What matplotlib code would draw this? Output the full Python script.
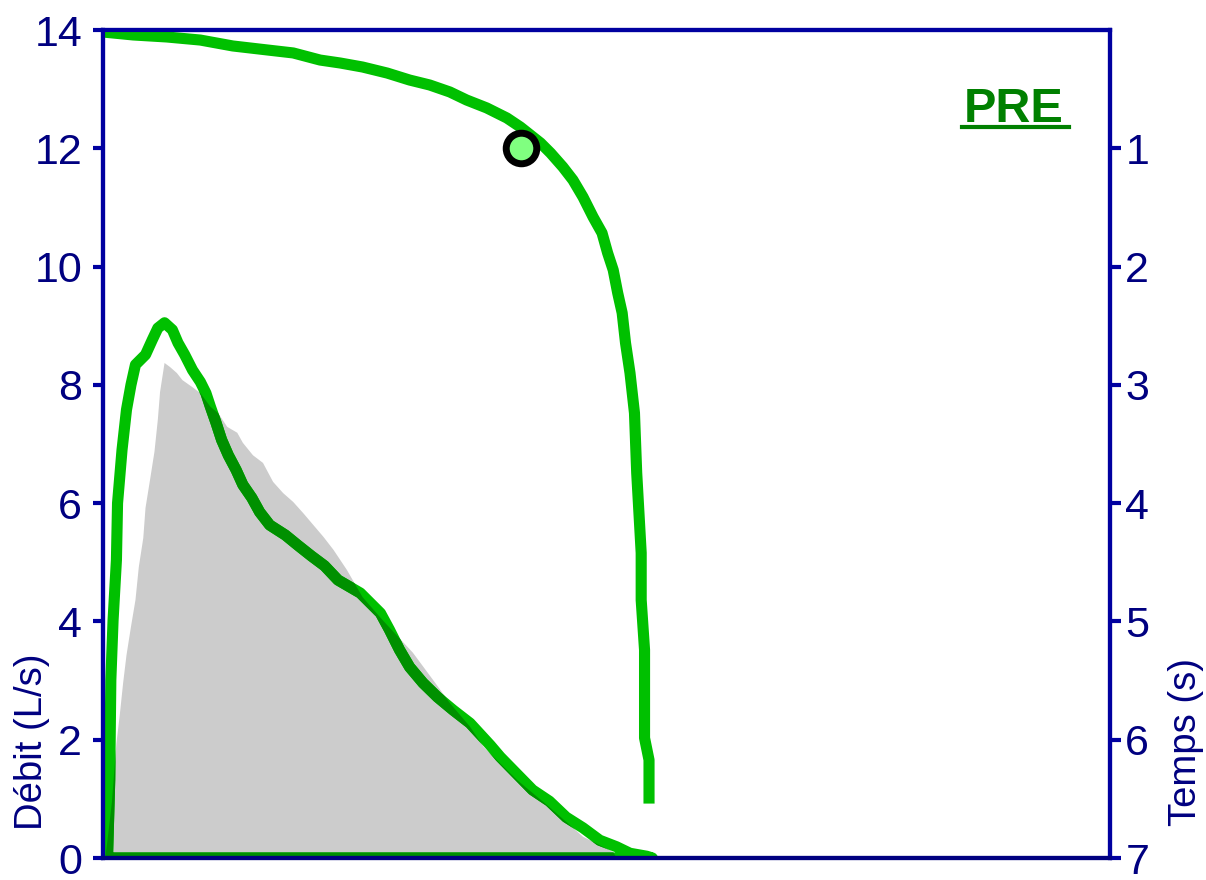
import matplotlib
matplotlib.use("Agg")
import matplotlib.pyplot as plt
from matplotlib.lines import Line2D

# courbe débit-volume mesurée (volume L, débit L/s)
vol_mes = [0.04, 0.06, 0.07, 0.09, 0.12, 0.13, 0.17, 0.21, 0.25, 0.29, 0.38, 0.44, 0.49,
           0.55, 0.62, 0.67, 0.73, 0.80, 0.87, 0.92, 0.96, 1.01, 1.06, 1.12, 1.19, 1.25,
           1.33, 1.40, 1.49, 1.63, 1.74, 1.86, 1.98, 2.10, 2.30, 2.48, 2.56, 2.65, 2.74,
           2.86, 2.99, 3.13, 3.28, 3.46, 3.55, 3.70, 3.84, 3.99, 4.14, 4.29, 4.44, 4.59,
           4.71, 4.86, 4.91, 0.04]
deb_mes = [0.0, 1.32, 3.01, 4.02, 5.04, 6.00, 6.90, 7.58, 8.00, 8.34, 8.51, 8.76, 8.96,
           9.05, 8.93, 8.71, 8.51, 8.25, 8.05, 7.86, 7.63, 7.36, 7.07, 6.81, 6.56, 6.31,
           6.09, 5.85, 5.63, 5.46, 5.29, 5.11, 4.94, 4.70, 4.48, 4.14, 3.86, 3.52, 3.23,
           2.96, 2.72, 2.50, 2.28, 1.91, 1.71, 1.42, 1.15, 0.96, 0.69, 0.51, 0.30, 0.19,
           0.08, 0.03, 0.0, 0.0]

# courbe théorique (zone grise)
vol_th = [0.02, 0.04, 0.08, 0.12, 0.15, 0.18, 0.21, 0.25, 0.29, 0.32, 0.36, 0.38, 0.42,
          0.46, 0.49, 0.51, 0.55, 0.60, 0.66, 0.71, 0.80, 0.87, 0.96, 1.03, 1.11, 1.20,
          1.25, 1.34, 1.43, 1.52, 1.61, 1.70, 1.79, 1.88, 1.97, 2.06, 2.18, 2.32, 2.50,
          2.77, 2.95, 3.10, 3.28, 3.40, 3.70, 3.99, 4.29, 4.56, 4.59]
deb_th = [0.0, 0.30, 0.95, 1.94, 2.42, 2.96, 3.43, 3.91, 4.36, 4.92, 5.41, 5.92, 6.39,
          6.87, 7.41, 7.88, 8.37, 8.30, 8.20, 8.08, 7.96, 7.86, 7.63, 7.52, 7.29, 7.19,
          7.02, 6.81, 6.68, 6.36, 6.17, 6.02, 5.83, 5.63, 5.43, 5.21, 4.87, 4.41, 4.02,
          3.47, 3.01, 2.62, 2.22, 1.88, 1.32, 0.86, 0.36, 0.10, 0.0]

# courbe volume-temps (volume L, temps s)
vol_t = [0.0, 0.27, 0.57, 0.87, 1.16, 1.47, 1.70, 1.94, 2.12, 2.32, 2.54, 2.74, 2.92,
         3.10, 3.25, 3.43, 3.61, 3.73, 3.91, 4.00, 4.11, 4.20, 4.29, 4.38, 4.46, 4.51,
         4.56, 4.60, 4.64, 4.67, 4.71, 4.75, 4.77, 4.81, 4.81, 4.84, 4.84, 4.88, 4.88]
temps = [0.017, 0.042, 0.059, 0.085, 0.135, 0.169, 0.194, 0.254, 0.279, 0.313, 0.364,
         0.423, 0.465, 0.524, 0.592, 0.659, 0.744, 0.820, 0.955, 1.040, 1.158, 1.268,
         1.412, 1.581, 1.716, 1.885, 2.029, 2.223, 2.392, 2.646, 2.900, 3.238, 3.745,
         4.421, 4.819, 5.241, 5.985, 6.171, 6.493]

# point repère à 1 s
vol_1s, temps_1s = 3.74, 1.0

deb_ticks = [0, 2, 4, 6, 8, 10, 12, 14]
temps_ticks = [1, 2, 3, 4, 5, 6, 7]

bleu = "#0000A0"
marine = "#000080"
vert = "#00C000"
vert_fonce = "#009000"
police = "Liberation Sans"

fig = plt.figure(figsize=(12.06, 8.80), dpi=100)
ax = fig.add_axes([103 / 1206, 1 - 858 / 880, (1110 - 103) / 1206, (858 - 30) / 880])

gris = ax.fill(vol_th, deb_th, color="#CCCCCC", lw=0, zorder=1)[0]
ax.plot(vol_mes, deb_mes, color=vert, lw=8, zorder=2)
# partie de la courbe au-dessus de la zone grise en vert foncé
fonce = ax.plot(vol_mes, deb_mes, color=vert_fonce, lw=8, zorder=2.1)[0]
fonce.set_clip_path(gris)

ax.set_xlim(0, 9)
ax.set_ylim(0, 14)
ax.set_xticks([])
ax.set_yticks(deb_ticks)
ax.tick_params(axis="y", direction="out", length=7, width=3, colors=bleu,
               labelcolor=marine, labelsize=31, pad=8)
for lab in ax.get_yticklabels():
    lab.set_family(police)
for s in ax.spines.values():
    s.set_color(bleu)
    s.set_linewidth(3)
ax.spines["bottom"].set_color(marine)

ax2 = ax.twinx()
ax2.plot(vol_t, temps, color=vert, lw=8, zorder=2)
ax2.plot([vol_1s], [temps_1s], "o", ms=22, mfc="#80FF80", mec="black", mew=5, zorder=3)
ax2.set_ylim(7, 0)
ax2.set_yticks(temps_ticks)
ax2.tick_params(axis="y", direction="out", length=8, width=3, colors=bleu,
                labelcolor=marine, labelsize=31, pad=3)
for lab in ax2.get_yticklabels():
    lab.set_family(police)
for s in ax2.spines.values():
    s.set_color(bleu)
    s.set_linewidth(3)
ax2.spines["bottom"].set_color(marine)

fig.text(32 / 1206, 1 - 742 / 880, "Débit (L/s)", rotation=90, ha="center", va="center",
         color=marine, fontsize=27.5, family=police)
fig.text(1186 / 1206, 1 - 742 / 880, "Temps (s)", rotation=90, ha="center", va="center",
         color=marine, fontsize=27.5, family=police)

fig.text(1014 / 1206, 1 - 122 / 880, "PRE", ha="center", va="baseline", color="#008000",
         fontsize=35, fontweight="bold", family=police)
fig.add_artist(Line2D([962 / 1206, 1069 / 1206], [1 - 127 / 880, 1 - 127 / 880],
                      color="#008000", lw=3, transform=fig.transFigure))

fig.savefig("out.png", dpi=100)
